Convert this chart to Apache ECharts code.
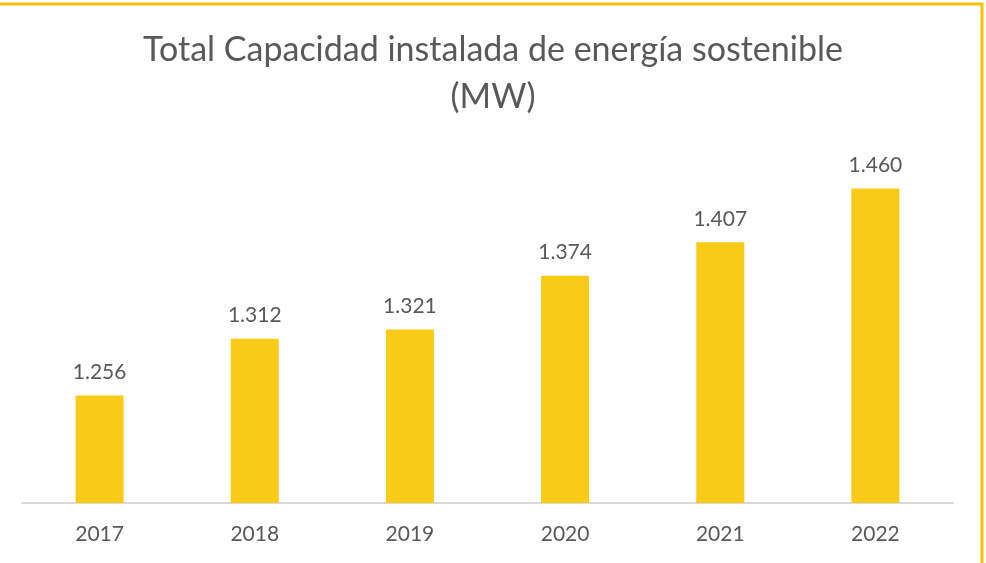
<!DOCTYPE html>
<html>
<head>
<meta charset="utf-8">
<script src="https://cdn.jsdelivr.net/npm/echarts@6/dist/echarts.min.js"></script>
<style>
  html, body { margin: 0; padding: 0; background: #fff; }
  #myChart { width: 986px; height: 563px; }
</style>
</head>
<body>
<div id="myChart"></div>
<script>
// datos
var categories = ["2017", "2018", "2019", "2020", "2021", "2022"];
var capacidad = [1256, 1312, 1321, 1374, 1407, 1460];
var yMin = 1150;
var yMax = 1500;

// separador de miles al estilo español: 1256 -> 1.256
function miles(v) {
  return String(v).replace(/\B(?=(\d{3})+(?!\d))/g, ".");
}

var myChart = echarts.init(document.getElementById("myChart"));
myChart.setOption({
  animation: false,
  textStyle: {
    fontFamily: "Lato, 'Noto Sans', sans-serif",
    color: "#595959",
  },
  title: {
    text: "Total Capacidad instalada de energía sostenible\n(MW)",
    left: "center",
    top: 22,
    textStyle: {
      fontSize: 34,
      fontWeight: "normal",
      color: "#595959",
      lineHeight: 47,
    },
  },
  graphic: [
    {
      // marco amarillo
      type: "rect",
      shape: { x: -10, y: 4, width: 992, height: 600 },
      style: { fill: "none", stroke: "#FFC000", lineWidth: 3 },
      silent: true,
    },
  ],
  grid: {
    left: 22,
    right: 33,
    top: 148,
    bottom: 60,
  },
  xAxis: {
    type: "category",
    data: categories,
    axisTick: { show: false },
    axisLine: { lineStyle: { color: "#D9D9D9", width: 2 } },
    axisLabel: { fontSize: 21, color: "#595959", margin: 21 },
  },
  yAxis: {
    type: "value",
    min: yMin,
    max: yMax,
    show: false,
    splitLine: { show: false },
  },
  series: [
    {
      type: "bar",
      data: capacidad,
      barWidth: 48,
      itemStyle: { color: "#FACB16" },
      label: {
        show: true,
        position: "top",
        distance: 13,
        fontSize: 21,
        color: "#595959",
        formatter: function (p) {
          return miles(p.value);
        },
      },
    },
  ],
});
</script>
</body>
</html>
